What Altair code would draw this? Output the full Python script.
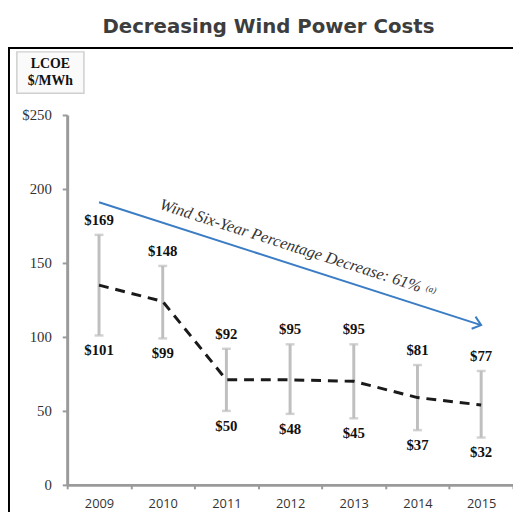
import altair as alt
import pandas as pd

years = ["2009", "2010", "2011", "2012", "2013", "2014", "2015"]
high = [169, 148, 92, 95, 95, 81, 77]
low = [101, 99, 50, 48, 45, 37, 32]
mid = [135, 124, 71, 71, 70, 59, 54]

arrow_years = ["2009", "2015"]
arrow_vals = [191, 108]
arrow_text = "Wind Six-Year Percentage Decrease: 61%"

SERIF = "Liberation Serif"

df = pd.DataFrame({"year": years, "high": high, "low": low, "mid": mid})
df["high_lbl"] = ["$" + str(v) for v in high]
df["low_lbl"] = ["$" + str(v) for v in low]
arrow_df = pd.DataFrame({"year": arrow_years, "val": arrow_vals})

xscale = alt.Scale(domain=years, paddingInner=0, paddingOuter=0)
yscale = alt.Scale(domain=[0, 250])

X = alt.X("year:N", scale=xscale, sort=years,
          axis=alt.Axis(title=None, labelAngle=0, tickBand="extent",
                        labelFont="Open Sans", labelFontSize=13, labelColor="#333",
                        domainColor="#9a9a9a", domainWidth=3, tickColor="#9a9a9a",
                        tickWidth=2, tickSize=4, labelPadding=9))
Yax = alt.Axis(title=None, values=[0, 50, 100, 150, 200, 250], grid=False,
               labelExpr="datum.value == 250 ? '$250' : datum.label",
               labelFont=SERIF, labelFontSize=15, labelColor="#333",
               domainColor="#9a9a9a", domainWidth=3, tickColor="#9a9a9a",
               tickWidth=2, tickSize=5, labelPadding=11)

XE = alt.X("year:N", scale=xscale, sort=years)
base = alt.Chart(df)

rules = base.mark_rule(color="#bfbfbf", strokeWidth=3).encode(
    x=X, y=alt.Y("low:Q", scale=yscale, axis=Yax), y2="high:Q")
caps_hi = base.mark_tick(color="#bfbfbf", orient="horizontal", size=9, thickness=2.5).encode(
    x=XE, y=alt.Y("high:Q", scale=yscale))
caps_lo = base.mark_tick(color="#bfbfbf", orient="horizontal", size=9, thickness=2.5).encode(
    x=XE, y=alt.Y("low:Q", scale=yscale))
line = base.mark_line(color="#1a1a1a", strokeWidth=3, strokeDash=[10, 7]).encode(
    x=XE, y=alt.Y("mid:Q", scale=yscale))
lbl_hi = base.mark_text(font=SERIF, fontWeight="bold", fontSize=15,
                        color="#111", dy=-15, baseline="middle").encode(
    x=XE, y=alt.Y("high:Q", scale=yscale), text="high_lbl:N")
lbl_lo = base.mark_text(font=SERIF, fontWeight="bold", fontSize=15,
                        color="#111", dy=15, baseline="middle").encode(
    x=XE, y=alt.Y("low:Q", scale=yscale), text="low_lbl:N")

abase = alt.Chart(arrow_df)
arrow_line = abase.mark_line(color="#3b7dc4", strokeWidth=2).encode(
    x=XE, y=alt.Y("val:Q", scale=yscale))
arrow_head = abase.transform_filter(alt.datum.year == "2015").mark_point(
    shape="M -1 -0.8 L 0 0 L -1 0.8", filled=False, color="#3b7dc4",
    strokeWidth=2, size=260, angle=17.7, opacity=1).encode(
    x=XE, y=alt.Y("val:Q", scale=yscale))

tdf = pd.DataFrame({"year": ["2012"], "val": [149.5], "t": [arrow_text], "s": ["(a)"]})
tbase = alt.Chart(tdf)
arrow_lbl = tbase.mark_text(font=SERIF, fontStyle="italic", fontSize=16.5,
                            color="#333", angle=17.7, dx=-5, dy=-12.5,
                            baseline="alphabetic", align="center").encode(
    x=XE, y=alt.Y("val:Q", scale=yscale), text="t:N")
arrow_sup = tbase.mark_text(font=SERIF, fontStyle="italic", fontSize=9,
                            color="#333", angle=17.7, dx=139, dy=-16,
                            baseline="alphabetic", align="left").encode(
    x=XE, y=alt.Y("val:Q", scale=yscale), text="s:N")

one = alt.Data(values=[{"a": 1}])
border = alt.Chart(one).mark_rect(fill=None, stroke="#000", strokeWidth=2).encode(
    x=alt.value(-59), x2=alt.value(470), y=alt.value(-68), y2=alt.value(420))
lcoe_box = alt.Chart(one).mark_rect(fill="#fafafa", stroke="#cfcfcf", strokeWidth=1.5).encode(
    x=alt.value(-51), x2=alt.value(17), y=alt.value(-64), y2=alt.value(-22))
lcoe_t1 = alt.Chart(one).mark_text(font=SERIF, fontWeight="bold", fontSize=14,
                                   color="#111", baseline="middle").encode(
    x=alt.value(-17), y=alt.value(-52), text=alt.value("LCOE"))
lcoe_t2 = alt.Chart(one).mark_text(font=SERIF, fontWeight="bold", fontSize=14,
                                   color="#111", baseline="middle").encode(
    x=alt.value(-17), y=alt.value(-34), text=alt.value("$/MWh"))
title = alt.Chart(one).mark_text(font="DejaVu Sans", fontWeight="bold", fontSize=20,
                                 color="#3d3d3d", baseline="alphabetic").encode(
    x=alt.value(204), y=alt.value(-83), text=alt.value("Decreasing Wind Power Costs"))

chart = alt.layer(
    border, lcoe_box, lcoe_t1, lcoe_t2, title,
    rules, caps_hi, caps_lo, line, lbl_hi, lbl_lo,
    arrow_line, arrow_head, arrow_lbl, arrow_sup,
).properties(
    width=452, height=375, autosize="none",
    padding={"left": 60, "top": 105, "right": 0, "bottom": 24},
    background="white",
).configure_view(stroke=None)

chart.save("out.html", embed_options={"renderer": "svg", "actions": False})
